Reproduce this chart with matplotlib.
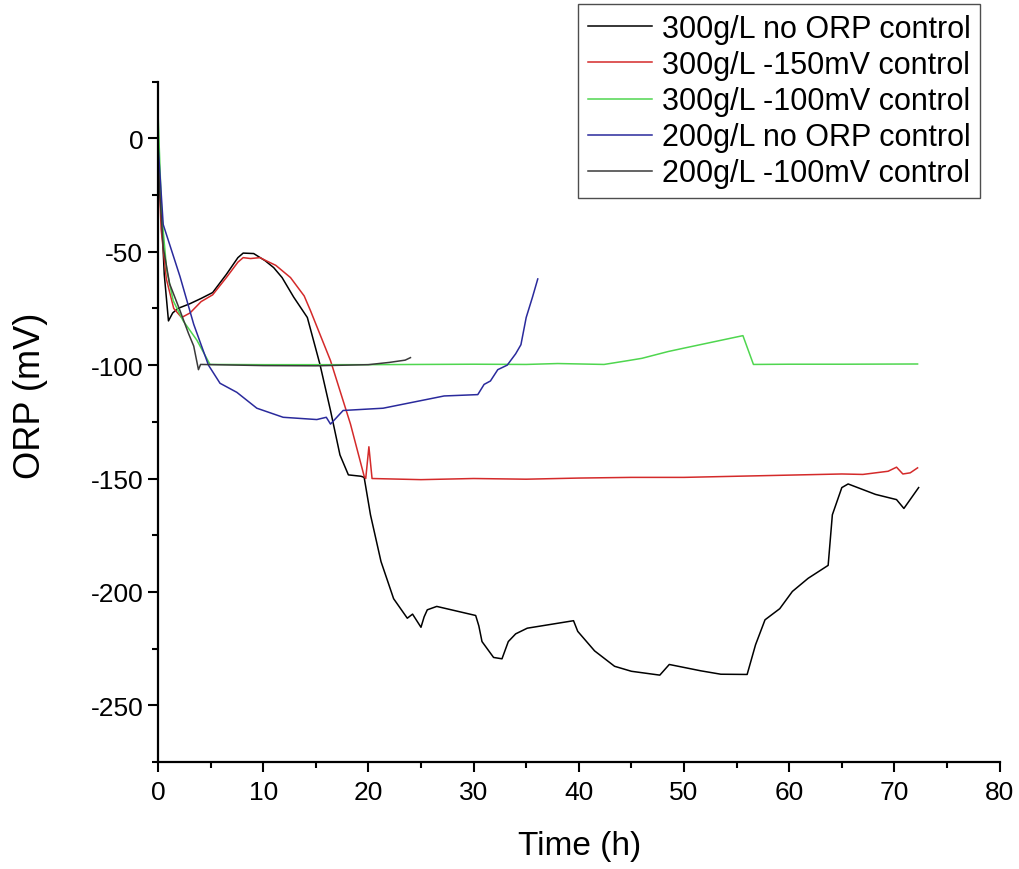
import matplotlib
matplotlib.use("Agg")
import matplotlib.pyplot as plt
from matplotlib.ticker import MultipleLocator

plt.rcParams["font.family"] = ["Liberation Sans", "DejaVu Sans"]
plt.rcParams["axes.unicode_minus"] = False

# ---- data ----
labels = [
    "300g/L no ORP control",
    "300g/L -150mV control",
    "300g/L -100mV control",
    "200g/L no ORP control",
    "200g/L -100mV control",
]
colors = ["#000000", "#d42a2a", "#4fd64f", "#2a2a9c", "#3a3a3a"]

t_300_none = [0, 0.3, 0.6, 1.0, 1.4, 1.9, 3.0, 4.1, 5.2, 6.5, 7.6, 8.1, 9.1, 10.2, 11.0,
              11.8, 12.9, 14.2, 15.4, 16.4, 17.3, 18.1, 19.3, 19.6, 20.2, 21.2, 22.4,
              23.7, 24.2, 25.0, 25.3, 25.6, 26.5, 30.2, 30.5, 30.8, 31.9, 32.7, 33.3,
              34.0, 35.1, 39.5, 39.9, 41.5, 43.4, 45.0, 47.7, 48.6, 51.6, 53.5, 56.0,
              56.8, 57.7, 59.1, 60.3, 61.8, 63.7, 64.1, 65.0, 65.6, 68.2, 70.2, 70.9, 72.3]
v_300_none = [-5, -30, -60, -80.5, -77, -75, -73, -70.6, -68, -60, -52.6, -50.6, -50.8, -54,
              -57, -61.4, -70, -79, -99.7, -120, -139.6, -148.4, -149, -149.5, -166,
              -186.6, -203, -211.6, -209.8, -215.6, -211, -207.9, -206.4, -210.4, -215,
              -221.9, -228.9, -229.5, -221.9, -218.5, -216, -212.7, -217.4, -226, -232.8,
              -235, -236.7, -232, -234.8, -236.3, -236.4, -223.3, -212.3, -207.4, -199.8,
              -194, -188.3, -166, -154, -152.4, -157, -159.3, -163.2, -154]

t_300_150 = [0, 0.3, 0.8, 1.5, 2.25, 3.05, 4.1, 5.2, 6.5, 7.6, 8.1, 8.8, 9.7, 10.3, 11.2,
             12.6, 13.9, 14.5, 16.4, 18.3, 19.6, 19.75, 20.05, 20.35, 25, 30, 35, 40,
             45, 50, 55, 60, 65, 67, 69.4, 70.2, 70.8, 71.5, 72.2]
v_300_150 = [-3, -40, -62, -75, -79, -77, -72, -69, -61.4, -54.6, -52.6, -53, -52.6, -54,
             -56, -61.4, -69.5, -76, -98, -126, -149, -150, -136, -150, -150.5, -150,
             -150.3, -149.8, -149.5, -149.5, -149, -148.5, -148, -148.2, -146.8, -145,
             -148, -147.5, -145.3]

t_300_100 = [0, 0.35, 0.83, 1.45, 2.4, 3.7, 4.95, 10, 20, 30, 35, 38, 42.4, 44.7, 46, 48.5,
             50, 55.6, 56.6, 60, 65, 72.2]
v_300_100 = [12, -33, -58, -71.6, -80.5, -89, -99.7, -99.8, -99.8, -99.6, -99.7, -99.3,
             -99.7, -98, -97, -94, -92.5, -87, -99.7, -99.6, -99.6, -99.5]

t_200_none = [0, 0.5, 2.1, 3.4, 4.8, 5.9, 7.5, 9.4, 11.9, 15.1, 16.0, 16.4, 17.6, 21.4,
              27.2, 30.4, 31.0, 31.6, 32.3, 33.2, 34.0, 34.5, 35.0, 35.6, 36.1]
v_200_none = [-2, -38, -61, -82, -100, -108, -112, -119, -123, -124, -123, -126, -120,
              -119, -113.6, -113, -108.5, -107, -102, -100, -95, -91, -79, -70, -62]

t_200_100 = [0, 0.2, 0.5, 1.1, 2.1, 2.9, 3.4, 3.85, 4.05, 10, 15, 20, 22, 23.5, 24.0]
v_200_100 = [-10, -26, -48, -64, -76, -86, -91.6, -102, -99.7, -100.2, -100.3, -99.8,
             -98.8, -97.8, -96.7]

series = [
    (t_300_none, v_300_none),
    (t_300_150, v_300_150),
    (t_300_100, v_300_100),
    (t_200_none, v_200_none),
    (t_200_100, v_200_100),
]

fig = plt.figure(figsize=(10.19, 8.70), dpi=100)
ax = fig.add_axes([0.155, 0.123, 0.826, 0.782])

for (t, v), lab, c in zip(series, labels, colors):
    ax.plot(t, v, color=c, linewidth=1.1, label=lab)

ax.set_xlim(0, 80)
ax.set_ylim(-275, 25)
ax.xaxis.set_major_locator(MultipleLocator(10))
ax.xaxis.set_minor_locator(MultipleLocator(5))
ax.yaxis.set_major_locator(MultipleLocator(50))
ax.yaxis.set_minor_locator(MultipleLocator(25))

for side in ["top", "right"]:
    ax.spines[side].set_visible(False)
for side in ["left", "bottom"]:
    ax.spines[side].set_linewidth(1.6)

ax.tick_params(which="major", direction="out", length=7, width=1.5, labelsize=19)
ax.tick_params(which="minor", direction="out", length=4.5, width=1.5)
ax.tick_params(axis="x", labelsize=19, pad=6)

ax.set_xlabel("Time (h)", fontsize=24)
ax.set_ylabel("ORP (mV)", fontsize=26)
ax.xaxis.set_label_coords(0.501, -0.100)
ax.yaxis.set_label_coords(-0.131, 0.54)

leg = ax.legend(loc="upper right", bbox_to_anchor=(0.962, 0.994),
                bbox_transform=fig.transFigure, fontsize=22, frameon=True,
                fancybox=False, edgecolor="#222222", handlelength=2.1,
                labelspacing=0.2, borderpad=0.32, handletextpad=0.33,
                borderaxespad=0)
leg.get_frame().set_linewidth(1.0)

fig.savefig("out.png", dpi=100)
